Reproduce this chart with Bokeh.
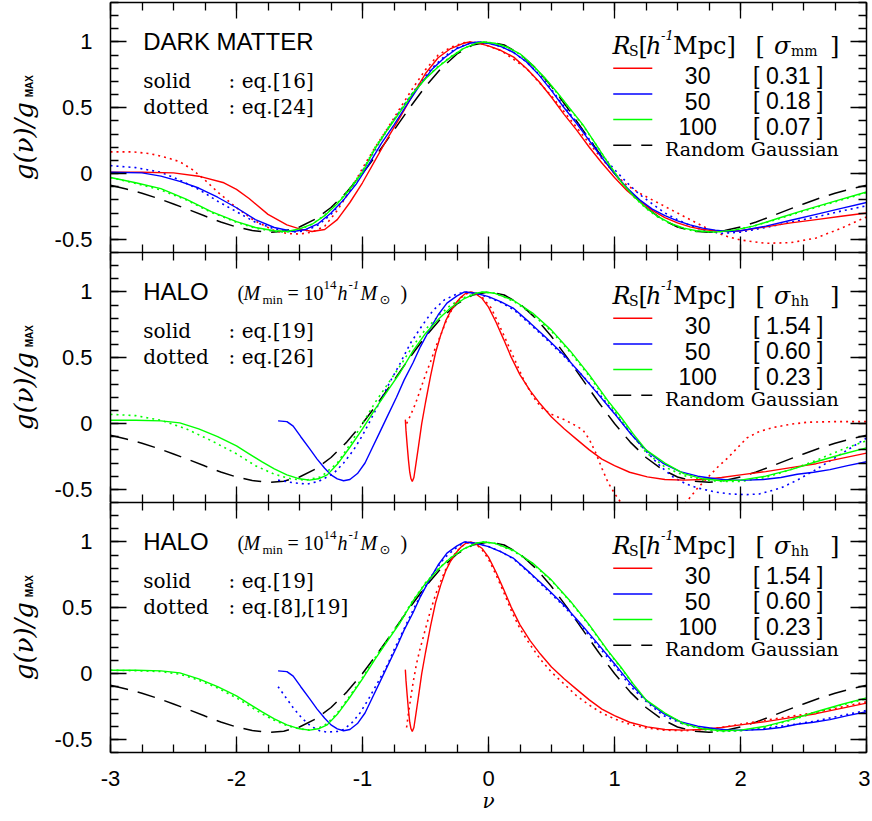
import numpy as np
from math import pi
from bokeh.plotting import figure
from bokeh.layouts import column, row
from bokeh.models import FixedTicker, LinearAxis, Label, Range1d
from bokeh.embed import file_html
from bokeh.resources import INLINE

# ---------------- data ----------------
X_TICKS = [-3, -2, -1, 0, 1, 2, 3]
X_TICK_LABELS = ["-3", "-2", "-1", "0", "1", "2", "3"]
Y_TICKS = [-0.5, 0, 0.5, 1]
Y_TICK_LABELS = ["-0.5", "0", "0.5", "1"]

RS_LABELS = ["30", "50", "100"]
SIGMA_MM = ["0.31", "0.18", "0.07"]
SIGMA_HH = ["1.54", "0.60", "0.23"]

# Random Gaussian (dashed, same in all panels)
RG_NU = [-3.0, -2.875, -2.75, -2.625, -2.5, -2.375, -2.25, -2.125, -2.0, -1.875, -1.75, -1.625,
         -1.5, -1.375, -1.25, -1.125, -1.0, -0.875, -0.75, -0.625, -0.5, -0.375, -0.25, -0.125,
         0.0, 0.125, 0.25, 0.375, 0.5, 0.625, 0.75, 0.875, 1.0, 1.125, 1.25, 1.375, 1.5, 1.625,
         1.75, 1.875, 2.0, 2.125, 2.25, 2.375, 2.5, 2.625, 2.75, 2.875, 3.0]
RG_G = [-0.089, -0.117, -0.150, -0.188, -0.231, -0.276, -0.323, -0.368, -0.406, -0.433, -0.447, -0.438,
        -0.406, -0.347, -0.258, -0.141, 0.0, 0.160, 0.330, 0.501, 0.662, 0.800, 0.909, 0.977,
        1.0, 0.977, 0.909, 0.800, 0.662, 0.501, 0.330, 0.160, 0.0, -0.141, -0.258, -0.347, -0.406, -0.438,
        -0.447, -0.433, -0.406, -0.368, -0.323, -0.276, -0.231, -0.188, -0.150, -0.117, -0.089]

# ---- panel 1 : dark matter ----
DM30_SOLID = [(-3.0, 0.01), (-2.75, 0.01), (-2.5, 0.005), (-2.3, -0.02), (-2.1, -0.07), (-2.0, -0.12),
              (-1.9, -0.19), (-1.75, -0.31), (-1.6, -0.39), (-1.5, -0.42), (-1.4, -0.44), (-1.3, -0.425),
              (-1.2, -0.35), (-1.1, -0.22), (-1.0, -0.07), (-0.9, 0.1), (-0.8, 0.27), (-0.7, 0.43),
              (-0.6, 0.6), (-0.5, 0.76), (-0.4, 0.88), (-0.3, 0.95), (-0.2, 0.99), (-0.15, 1.0),
              (-0.1, 0.995), (0.0, 0.97), (0.1, 0.935), (0.2, 0.885), (0.3, 0.8), (0.4, 0.7), (0.5, 0.58),
              (0.6, 0.45), (0.7, 0.33), (0.8, 0.2), (0.9, 0.08), (1.0, -0.03), (1.1, -0.13), (1.2, -0.21),
              (1.3, -0.28), (1.4, -0.335), (1.5, -0.375), (1.6, -0.405), (1.7, -0.425), (1.8, -0.435),
              (1.9, -0.44), (2.0, -0.435), (2.2, -0.405), (2.4, -0.375), (2.6, -0.35), (2.8, -0.325), (3.0, -0.3)]
DM30_DOT = [(-3.0, 0.165), (-2.82, 0.165), (-2.68, 0.15), (-2.55, 0.12), (-2.45, 0.09), (-2.35, 0.03),
            (-2.25, -0.05), (-2.15, -0.14), (-2.0, -0.26), (-1.87, -0.35), (-1.71, -0.43), (-1.6, -0.455),
            (-1.5, -0.46), (-1.4, -0.445), (-1.3, -0.4), (-1.2, -0.28), (-1.1, -0.13), (-1.0, 0.04),
            (-0.9, 0.2), (-0.8, 0.345), (-0.7, 0.5), (-0.6, 0.65), (-0.5, 0.79), (-0.4, 0.9), (-0.3, 0.96),
            (-0.2, 0.993), (-0.15, 1.0), (-0.05, 0.985), (0.1, 0.935), (0.3, 0.8), (0.5, 0.59), (0.7, 0.35),
            (0.85, 0.17), (1.0, 0.0), (1.1, -0.09), (1.2, -0.15), (1.3, -0.2), (1.4, -0.25), (1.5, -0.3),
            (1.6, -0.35), (1.7, -0.4), (1.8, -0.445), (1.9, -0.48), (2.0, -0.505), (2.2, -0.53),
            (2.4, -0.525), (2.6, -0.49), (2.8, -0.415), (3.0, -0.33)]
DM50_SOLID = [(-3.0, 0.01), (-2.75, 0.005), (-2.6, -0.02), (-2.45, -0.06), (-2.3, -0.11), (-2.15, -0.18),
              (-2.0, -0.26), (-1.85, -0.35), (-1.7, -0.41), (-1.55, -0.44), (-1.45, -0.425), (-1.35, -0.38),
              (-1.25, -0.3), (-1.15, -0.2), (-1.05, -0.08), (-0.95, 0.07), (-0.85, 0.23), (-0.75, 0.37),
              (-0.65, 0.52), (-0.55, 0.665), (-0.45, 0.79), (-0.35, 0.88), (-0.25, 0.95), (-0.15, 0.99),
              (-0.08, 1.0), (0.0, 0.99), (0.1, 0.965), (0.2, 0.92), (0.3, 0.85), (0.4, 0.75), (0.5, 0.63),
              (0.6, 0.5), (0.7, 0.38), (0.8, 0.25), (0.9, 0.12), (1.0, 0.0), (1.1, -0.11), (1.2, -0.2),
              (1.3, -0.27), (1.4, -0.32), (1.5, -0.36), (1.6, -0.39), (1.7, -0.415), (1.8, -0.43),
              (1.9, -0.44), (2.0, -0.435), (2.2, -0.4), (2.4, -0.355), (2.6, -0.31), (2.8, -0.265), (3.0, -0.22)]
DM50_DOT = [(-3.0, 0.06), (-2.8, 0.045), (-2.6, 0.01), (-2.45, -0.05), (-2.3, -0.12), (-2.15, -0.21),
            (-2.0, -0.29), (-1.85, -0.37), (-1.7, -0.42), (-1.55, -0.445), (-1.45, -0.435), (-1.35, -0.39),
            (-1.25, -0.31), (-1.15, -0.2), (-1.05, -0.06), (-0.95, 0.1), (-0.85, 0.26), (-0.75, 0.41),
            (-0.65, 0.55), (-0.55, 0.68), (-0.45, 0.8), (-0.35, 0.89), (-0.25, 0.955), (-0.15, 0.99),
            (-0.08, 1.0), (0.0, 0.99), (0.1, 0.965), (0.2, 0.92), (0.3, 0.85), (0.4, 0.755), (0.5, 0.64),
            (0.6, 0.51), (0.7, 0.39), (0.8, 0.26), (0.9, 0.14), (1.0, 0.03), (1.1, -0.07), (1.2, -0.16),
            (1.3, -0.23), (1.4, -0.3), (1.5, -0.35), (1.6, -0.395), (1.7, -0.43), (1.85, -0.455),
            (2.0, -0.445), (2.2, -0.41), (2.4, -0.37), (2.6, -0.33), (2.8, -0.285), (3.0, -0.245)]
DM100_SOLID = [(-3.0, -0.03), (-2.8, -0.07), (-2.6, -0.115), (-2.4, -0.195), (-2.2, -0.29), (-2.0, -0.365),
               (-1.85, -0.41), (-1.7, -0.435), (-1.6, -0.44), (-1.5, -0.42), (-1.4, -0.385), (-1.3, -0.32),
               (-1.2, -0.23), (-1.1, -0.12), (-1.0, 0.01), (-0.9, 0.19), (-0.8, 0.335), (-0.7, 0.47),
               (-0.6, 0.61), (-0.5, 0.72), (-0.4, 0.81), (-0.3, 0.885), (-0.2, 0.95), (-0.1, 0.99),
               (-0.04, 1.0), (0.05, 0.99), (0.15, 0.96), (0.25, 0.91), (0.35, 0.825), (0.45, 0.725),
               (0.55, 0.61), (0.65, 0.49), (0.75, 0.37), (0.85, 0.225), (0.95, 0.08), (1.05, -0.06),
               (1.15, -0.17), (1.25, -0.26), (1.35, -0.33), (1.45, -0.38), (1.55, -0.415), (1.65, -0.435),
               (1.8, -0.445), (1.95, -0.43), (2.1, -0.4), (2.3, -0.34), (2.5, -0.28), (2.75, -0.21), (3.0, -0.14)]
DM100_DOT = [(-3.0, -0.03), (-2.8, -0.075), (-2.6, -0.125), (-2.4, -0.2), (-2.2, -0.295), (-2.0, -0.37),
             (-1.85, -0.415), (-1.7, -0.44), (-1.6, -0.445), (-1.5, -0.425), (-1.4, -0.385), (-1.3, -0.315),
             (-1.2, -0.225), (-1.1, -0.11), (-1.0, 0.02), (-0.9, 0.2), (-0.8, 0.345), (-0.7, 0.48),
             (-0.6, 0.615), (-0.5, 0.725), (-0.4, 0.815), (-0.3, 0.888), (-0.2, 0.95), (-0.1, 0.99),
             (-0.04, 1.0), (0.05, 0.99), (0.15, 0.96), (0.25, 0.905), (0.35, 0.82), (0.45, 0.72),
             (0.55, 0.605), (0.65, 0.485), (0.75, 0.365), (0.85, 0.225), (0.95, 0.08), (1.05, -0.06),
             (1.15, -0.175), (1.25, -0.265), (1.35, -0.335), (1.45, -0.385), (1.55, -0.42), (1.65, -0.44),
             (1.8, -0.445), (1.95, -0.43), (2.1, -0.4), (2.3, -0.345), (2.5, -0.285), (2.75, -0.215), (3.0, -0.145)]

# ---- panels 2 and 3 : haloes, eq.[19] (solid, same in both panels) ----
H30_EQ19 = [(-0.66, 0.03), (-0.655, -0.05), (-0.645, -0.17), (-0.635, -0.28), (-0.625, -0.37),
            (-0.615, -0.42), (-0.605, -0.44), (-0.592, -0.41), (-0.575, -0.3), (-0.555, -0.17),
            (-0.53, 0.0), (-0.5, 0.16), (-0.46, 0.36), (-0.42, 0.54), (-0.38, 0.67), (-0.34, 0.78),
            (-0.3, 0.855), (-0.26, 0.915), (-0.22, 0.96), (-0.18, 0.99), (-0.14, 1.0), (-0.1, 0.985),
            (-0.05, 0.95), (0.0, 0.885), (0.06, 0.77), (0.12, 0.64), (0.18, 0.505), (0.25, 0.37),
            (0.33, 0.25), (0.41, 0.15), (0.5, 0.05), (0.6, -0.04), (0.7, -0.12), (0.8, -0.2), (0.9, -0.27),
            (1.0, -0.32), (1.12, -0.37), (1.26, -0.405), (1.4, -0.425), (1.55, -0.43), (1.7, -0.425),
            (1.85, -0.41), (2.0, -0.39), (2.2, -0.365), (2.4, -0.335), (2.6, -0.305), (2.8, -0.265), (3.0, -0.225)]
H50_EQ19 = [(-1.67, 0.02), (-1.6, 0.015), (-1.55, -0.02), (-1.49, -0.1), (-1.42, -0.19), (-1.36, -0.27),
            (-1.3, -0.34), (-1.25, -0.39), (-1.2, -0.42), (-1.15, -0.435), (-1.1, -0.425), (-1.04, -0.38),
            (-0.98, -0.3), (-0.94, -0.22), (-0.87, -0.08), (-0.8, 0.06), (-0.73, 0.2), (-0.67, 0.33),
            (-0.6, 0.46), (-0.54, 0.585), (-0.47, 0.71), (-0.4, 0.825), (-0.33, 0.915), (-0.25, 0.97),
            (-0.19, 1.0), (-0.1, 0.99), (0.0, 0.965), (0.1, 0.925), (0.2, 0.875), (0.33, 0.765),
            (0.46, 0.65), (0.6, 0.52), (0.73, 0.38), (0.86, 0.235), (1.0, 0.075), (1.13, -0.08),
            (1.26, -0.21), (1.39, -0.305), (1.52, -0.365), (1.66, -0.4), (1.8, -0.42), (1.92, -0.43),
            (2.05, -0.43), (2.18, -0.425), (2.32, -0.41), (2.45, -0.385), (2.58, -0.37), (2.71, -0.35),
            (2.85, -0.32), (3.0, -0.29)]
H100_EQ19 = [(-3.0, 0.025), (-2.8, 0.025), (-2.6, 0.02), (-2.45, 0.005), (-2.3, -0.04), (-2.15, -0.1),
             (-2.0, -0.17), (-1.9, -0.23), (-1.8, -0.29), (-1.7, -0.345), (-1.6, -0.39), (-1.5, -0.42),
             (-1.42, -0.43), (-1.35, -0.42), (-1.28, -0.39), (-1.2, -0.31), (-1.1, -0.18), (-1.0, -0.04),
             (-0.9, 0.11), (-0.8, 0.25), (-0.7, 0.39), (-0.6, 0.55), (-0.5, 0.685), (-0.4, 0.79),
             (-0.3, 0.88), (-0.2, 0.945), (-0.1, 0.99), (-0.04, 1.0), (0.05, 0.99), (0.2, 0.935),
             (0.35, 0.84), (0.5, 0.71), (0.65, 0.55), (0.8, 0.37), (0.95, 0.17), (1.05, 0.05), (1.15, -0.08),
             (1.25, -0.2), (1.4, -0.3), (1.55, -0.38), (1.7, -0.42), (1.85, -0.435), (2.0, -0.43),
             (2.2, -0.4), (2.4, -0.35), (2.6, -0.29), (2.8, -0.235), (3.0, -0.185)]

# ---- panel 2 dotted : eq.[26] ----
H30_EQ26 = [(-0.65, 0.0), (-0.62, 0.06), (-0.58, 0.15), (-0.54, 0.26), (-0.5, 0.37), (-0.46, 0.47),
            (-0.42, 0.58), (-0.38, 0.67), (-0.34, 0.77), (-0.3, 0.85), (-0.26, 0.91), (-0.22, 0.955),
            (-0.18, 0.985), (-0.14, 1.0), (-0.1, 0.99), (-0.05, 0.96), (0.02, 0.88), (0.08, 0.76),
            (0.15, 0.61), (0.22, 0.46), (0.28, 0.33), (0.35, 0.21), (0.42, 0.12), (0.5, 0.07), (0.6, 0.03),
            (0.7, -0.02), (0.75, -0.05), (0.8, -0.12), (0.85, -0.22), (0.9, -0.34), (0.95, -0.45),
            (1.0, -0.53), (1.05, -0.6), (1.15, -0.75), (1.3, -0.85), (1.45, -0.75), (1.55, -0.62),
            (1.66, -0.49), (1.74, -0.41), (1.82, -0.33), (1.9, -0.26), (1.98, -0.18), (2.05, -0.11),
            (2.15, -0.06), (2.26, -0.03), (2.4, -0.005), (2.53, 0.01), (2.75, 0.015), (3.0, 0.015)]
H50_EQ26 = [(-1.67, -0.43), (-1.55, -0.45), (-1.44, -0.46), (-1.35, -0.44), (-1.23, -0.38), (-1.15, -0.3),
            (-1.07, -0.2), (-1.0, -0.09), (-0.94, 0.02), (-0.86, 0.17), (-0.78, 0.32), (-0.7, 0.46),
            (-0.62, 0.61), (-0.53, 0.74), (-0.44, 0.86), (-0.35, 0.94), (-0.25, 0.985), (-0.18, 1.0),
            (-0.1, 0.99), (0.0, 0.96), (0.1, 0.92), (0.2, 0.865), (0.33, 0.755), (0.45, 0.65), (0.6, 0.51),
            (0.75, 0.36), (0.9, 0.2), (1.05, 0.02), (1.15, -0.1), (1.26, -0.22), (1.37, -0.33),
            (1.47, -0.41), (1.57, -0.46), (1.66, -0.49), (1.8, -0.52), (1.92, -0.535), (2.05, -0.54),
            (2.15, -0.535), (2.32, -0.49), (2.45, -0.43), (2.58, -0.36), (2.7, -0.29), (2.85, -0.2), (3.0, -0.11)]
H100_EQ26 = [(-3.0, 0.07), (-2.8, 0.06), (-2.6, 0.025), (-2.4, -0.04), (-2.2, -0.13), (-2.0, -0.23),
             (-1.85, -0.32), (-1.7, -0.385), (-1.57, -0.42), (-1.45, -0.43), (-1.33, -0.405), (-1.2, -0.3),
             (-1.1, -0.16), (-1.0, 0.0), (-0.9, 0.16), (-0.8, 0.3), (-0.7, 0.44), (-0.6, 0.59),
             (-0.5, 0.715), (-0.4, 0.815), (-0.3, 0.9), (-0.2, 0.955), (-0.1, 0.99), (-0.04, 1.0),
             (0.05, 0.99), (0.2, 0.93), (0.35, 0.83), (0.5, 0.7), (0.65, 0.54), (0.8, 0.36), (0.95, 0.16),
             (1.05, 0.03), (1.15, -0.1), (1.25, -0.22), (1.4, -0.33), (1.55, -0.395), (1.7, -0.43),
             (1.85, -0.44), (2.0, -0.44), (2.2, -0.41), (2.4, -0.35), (2.6, -0.28), (2.8, -0.2), (3.0, -0.13)]

# ---- panel 3 dotted : eq.[8],[19] ----
H30_EQ8 = [(-0.65, -0.41), (-0.635, -0.3), (-0.615, -0.17), (-0.595, -0.05), (-0.57, 0.08), (-0.545, 0.18),
           (-0.5, 0.34), (-0.46, 0.48), (-0.42, 0.6), (-0.38, 0.7), (-0.34, 0.79), (-0.3, 0.86),
           (-0.26, 0.92), (-0.22, 0.96), (-0.18, 0.99), (-0.14, 1.0), (-0.1, 0.985), (-0.05, 0.94),
           (0.0, 0.87), (0.06, 0.75), (0.12, 0.62), (0.18, 0.48), (0.25, 0.34), (0.33, 0.22), (0.41, 0.11),
           (0.5, 0.01), (0.6, -0.08), (0.7, -0.17), (0.8, -0.24), (0.9, -0.3), (1.0, -0.345), (1.12, -0.385),
           (1.26, -0.415), (1.4, -0.43), (1.55, -0.435), (1.7, -0.425), (1.85, -0.41), (2.0, -0.385),
           (2.2, -0.355), (2.4, -0.325), (2.6, -0.295), (2.8, -0.255), (3.0, -0.215)]
H50_EQ8 = [(-1.67, -0.1), (-1.61, -0.18), (-1.55, -0.26), (-1.48, -0.34), (-1.41, -0.4), (-1.34, -0.435),
           (-1.28, -0.445), (-1.2, -0.44), (-1.15, -0.425), (-1.08, -0.37), (-1.02, -0.3), (-0.95, -0.19),
           (-0.88, -0.07), (-0.8, 0.07), (-0.75, 0.18), (-0.67, 0.34), (-0.6, 0.48), (-0.52, 0.63),
           (-0.44, 0.76), (-0.35, 0.88), (-0.25, 0.96), (-0.19, 1.0), (-0.1, 0.99), (0.0, 0.965),
           (0.1, 0.925), (0.2, 0.87), (0.33, 0.76), (0.46, 0.64), (0.6, 0.51), (0.73, 0.37), (0.86, 0.22),
           (1.0, 0.06), (1.13, -0.1), (1.26, -0.22), (1.39, -0.32), (1.52, -0.375), (1.66, -0.41),
           (1.8, -0.43), (1.92, -0.435), (2.05, -0.43), (2.2, -0.415), (2.4, -0.39), (2.6, -0.36),
           (2.8, -0.32), (3.0, -0.28)]
H100_EQ8 = [(-3.0, 0.025), (-2.8, 0.022), (-2.6, 0.015), (-2.45, -0.005), (-2.3, -0.05), (-2.15, -0.11),
            (-2.0, -0.185), (-1.9, -0.245), (-1.8, -0.305), (-1.7, -0.355), (-1.6, -0.395), (-1.5, -0.42),
            (-1.42, -0.43), (-1.35, -0.415), (-1.28, -0.38), (-1.2, -0.3), (-1.1, -0.17), (-1.0, -0.03),
            (-0.9, 0.12), (-0.8, 0.26), (-0.7, 0.4), (-0.6, 0.555), (-0.5, 0.69), (-0.4, 0.795),
            (-0.3, 0.88), (-0.2, 0.945), (-0.1, 0.99), (-0.04, 1.0), (0.05, 0.99), (0.2, 0.93),
            (0.35, 0.835), (0.5, 0.705), (0.65, 0.545), (0.8, 0.365), (0.95, 0.165), (1.05, 0.045),
            (1.15, -0.085), (1.25, -0.205), (1.4, -0.305), (1.55, -0.385), (1.7, -0.425), (1.85, -0.44),
            (2.0, -0.435), (2.2, -0.405), (2.4, -0.355), (2.6, -0.295), (2.8, -0.24), (3.0, -0.19)]

# ---------------- styling ----------------
RED, BLUE, GREEN = "#ff0000", "#0000ff", "#00ff00"
COLORS = [RED, BLUE, GREEN]
FRAME_W, FRAME_H = 756, 250
STRIP_W = 40
SERIF = "DejaVu Serif"
SANS = "Liberation Sans"
DOT = "2 4"
DASH = "18 10"
Y_RANGE = (-0.6, 1.3)


def lab(p, x, y, text, size, font=SERIF, style="normal", align="left", angle=0.0):
    p.add_layout(Label(x=x, y=y, text=text, text_font=font, text_font_size=f"{size}px",
                       text_font_style=style, text_align=align, text_baseline="alphabetic",
                       angle=angle, text_color="black"))


def style_axis(ax, show_labels, overrides=None):
    ax.axis_line_width = 1.5
    ax.axis_line_color = "black"
    ax.major_tick_in = 16
    ax.major_tick_out = 0
    ax.minor_tick_in = 8
    ax.minor_tick_out = 0
    ax.major_tick_line_width = 1.3
    ax.minor_tick_line_width = 1.3
    ax.major_tick_line_color = "black"
    ax.minor_tick_line_color = "black"
    if show_labels:
        ax.major_label_text_font = SANS
        ax.major_label_text_font_size = "22px"
        ax.major_label_text_color = "black"
        ax.major_label_overrides = overrides
    else:
        ax.major_label_text_font_size = "0px"
        ax.major_label_text_color = None
        ax.major_label_standoff = 0
    ax.axis_label = None


def bare_figure(fw, fh, xr, yr, bt, bb):
    f = figure(frame_width=fw, frame_height=fh, x_range=Range1d(*xr), y_range=Range1d(*yr),
               x_axis_location=None, y_axis_location=None,
               output_backend="svg", toolbar_location=None,
               min_border_left=0, min_border_right=0, min_border_top=bt, min_border_bottom=bb,
               background_fill_color="white", border_fill_color="white")
    f.outline_line_color = None
    f.grid.visible = False
    return f


def make_strip(bt, bb):
    # holds the rotated y-axis title g(nu)/g_MAX to the left of a panel
    s = bare_figure(STRIP_W, FRAME_H, (0, STRIP_W), Y_RANGE, bt, bb)
    lab(s, 23, -0.05, "g(ν)/g", 26, style="italic", angle=pi / 2)
    lab(s, 29, 0.58, "MAX", 10, font=SANS, style="bold", angle=pi / 2)
    return s


def make_panel(curves, bt, bb, x_labels):
    p = figure(frame_width=FRAME_W, frame_height=FRAME_H,
               x_range=Range1d(-3, 3), y_range=Range1d(*Y_RANGE),
               x_axis_location=None, y_axis_location=None,
               output_backend="svg", toolbar_location=None,
               min_border_left=110 - STRIP_W, min_border_right=4,
               min_border_top=bt, min_border_bottom=bb,
               background_fill_color="white", border_fill_color="white")
    p.outline_line_color = None
    p.grid.visible = False

    minor_x = [float(v) for v in np.arange(-3, 3.001, 0.25)]
    minor_y = [float(v) for v in np.round(np.arange(-0.6, 1.301, 0.1), 2)]
    xt = FixedTicker(ticks=X_TICKS, minor_ticks=minor_x)
    yt = FixedTicker(ticks=Y_TICKS, minor_ticks=minor_y)

    xb = LinearAxis(ticker=xt)
    style_axis(xb, x_labels, {float(t): s for t, s in zip(X_TICKS, X_TICK_LABELS)})
    if x_labels:
        xb.major_label_standoff = 18
        xb.axis_label = "ν"
        xb.axis_label_text_font = SERIF
        xb.axis_label_text_font_style = "italic"
        xb.axis_label_text_font_size = "20px"
        xb.axis_label_text_color = "black"
        xb.axis_label_standoff = 0
    p.add_layout(xb, "below")
    xa = LinearAxis(ticker=xt)
    style_axis(xa, False)
    p.add_layout(xa, "above")
    yl = LinearAxis(ticker=yt)
    style_axis(yl, True, {float(t): s for t, s in zip(Y_TICKS, Y_TICK_LABELS)})
    yl.major_label_standoff = 18
    p.add_layout(yl, "left")
    yr = LinearAxis(ticker=yt)
    style_axis(yr, False)
    p.add_layout(yr, "right")

    p.line(RG_NU, RG_G, line_color="black", line_width=1.5, line_dash=DASH)
    for pts, col, dash in curves:
        nu, g = zip(*pts)
        if dash:
            p.line(list(nu), list(g), line_color=col, line_width=1.6, line_dash=DOT)
        else:
            p.line(list(nu), list(g), line_color=col, line_width=1.4)
    return p


def add_legend(p, sigmas, sig_sub):
    hb, sub, sup = 0.97, 0.935, 1.05
    lab(p, 0.984, hb, "R", 24, style="italic")
    lab(p, 1.115, sub, "S", 14)
    lab(p, 1.19, hb, "[", 24)
    lab(p, 1.25, hb, "h", 24, style="italic")
    lab(p, 1.37, sup, "-1", 13, style="italic")
    lab(p, 1.465, hb, "Mpc]", 24)
    lab(p, 2.12, hb, "[", 24)
    lab(p, 2.265, hb, "σ", 24, style="italic")
    lab(p, 2.40, sub, sig_sub, 14)
    lab(p, 2.71, hb, "]", 24)
    bases = [0.745, 0.55, 0.355]
    for yb, rs, sg, col in zip(bases, RS_LABELS, sigmas, COLORS):
        p.line([0.99, 1.30], [yb + 0.055, yb + 0.055], line_color=col, line_width=1.5)
        lab(p, 1.66, yb, rs, 23, font=SANS, align="center")
        lab(p, 2.10, yb, f"[ {sg} ]", 23, font=SANS)
    p.line([0.99, 1.30], [0.215, 0.215], line_color="black", line_width=1.5, line_dash=DASH)
    lab(p, 1.40, 0.19, "Random Gaussian", 19)


def add_eq_text(p, eq_solid, eq_dotted):
    lab(p, -2.74, 0.70, "solid", 20)
    lab(p, -2.063, 0.70, ": " + eq_solid, 20)
    lab(p, -2.74, 0.505, "dotted", 20)
    lab(p, -2.063, 0.505, ": " + eq_dotted, 20)


def add_halo_title(p):
    lab(p, -2.74, 1.0, "HALO", 24, font=SANS)
    b, sb, sp = 0.99, 0.945, 1.05
    F = "Liberation Serif"
    lab(p, -1.992, b, "(", 20, font=F)
    lab(p, -1.944, b, "M", 20, font=F, style="italic")
    lab(p, -1.794, sb, "min", 13, font=F)
    lab(p, -1.595, b, "=", 20, font=F)
    lab(p, -1.468, b, "10", 20, font=F)
    lab(p, -1.31, sp, "14", 13, font=F)
    lab(p, -1.198, b, "h", 20, font=F, style="italic")
    lab(p, -1.111, sp, "-1", 13, font=F, style="italic")
    lab(p, -1.016, b, "M", 20, font=F, style="italic")
    lab(p, -0.865, sb, "⊙", 13, font="DejaVu Sans")
    lab(p, -0.698, b, ")", 20, font=F)


BT1, BB3 = 2, 66

# ---- panel 1 ----
p1 = make_panel([(DM30_DOT, RED, True), (DM50_DOT, BLUE, True), (DM100_DOT, GREEN, True),
                 (DM30_SOLID, RED, False), (DM50_SOLID, BLUE, False), (DM100_SOLID, GREEN, False)],
                BT1, 0, False)
lab(p1, -2.74, 1.0, "DARK MATTER", 24, font=SANS)
add_eq_text(p1, "eq.[16]", "eq.[24]")
add_legend(p1, SIGMA_MM, "mm")

# ---- panel 2 ----
p2 = make_panel([(H30_EQ26, RED, True), (H50_EQ26, BLUE, True), (H100_EQ26, GREEN, True),
                 (H30_EQ19, RED, False), (H50_EQ19, BLUE, False), (H100_EQ19, GREEN, False)],
                0, 0, False)
add_halo_title(p2)
add_eq_text(p2, "eq.[19]", "eq.[26]")
add_legend(p2, SIGMA_HH, "hh")

# ---- panel 3 ----
p3 = make_panel([(H30_EQ8, RED, True), (H50_EQ8, BLUE, True), (H100_EQ8, GREEN, True),
                 (H30_EQ19, RED, False), (H50_EQ19, BLUE, False), (H100_EQ19, GREEN, False)],
                0, BB3, True)
add_halo_title(p3)
add_eq_text(p3, "eq.[19]", "eq.[8],[19]")
add_legend(p3, SIGMA_HH, "hh")

layout = column(row(make_strip(BT1, 0), p1),
                row(make_strip(0, 0), p2),
                row(make_strip(0, BB3), p3))
open("out.html", "w").write(file_html(layout, INLINE))
